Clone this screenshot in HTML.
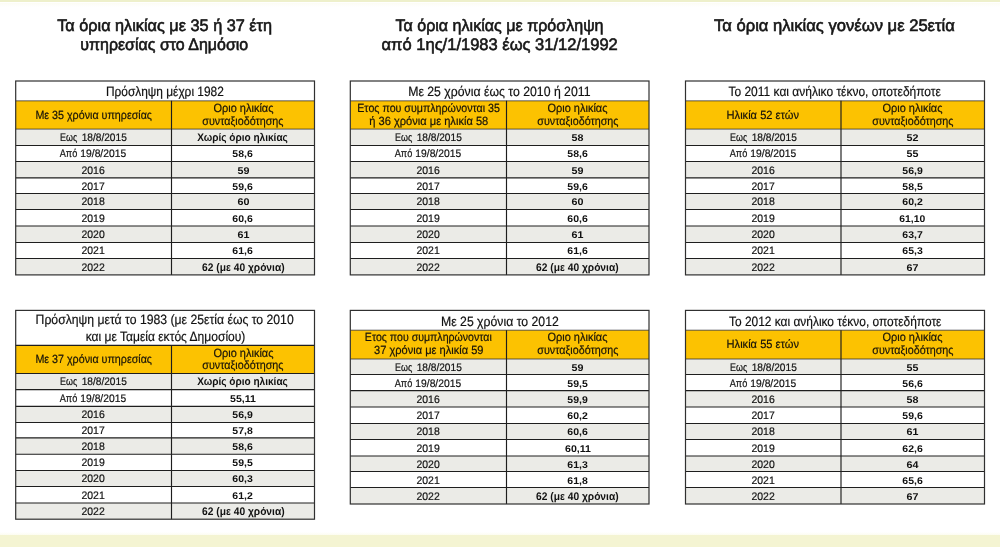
<!DOCTYPE html>
<html lang="el"><head><meta charset="utf-8"><title>Τα όρια ηλικίας</title>
<style>
html,body{margin:0;padding:0;}
body{width:1000px;height:547px;position:relative;overflow:hidden;background:#fff;font-family:"Liberation Sans",sans-serif;text-rendering:geometricPrecision;}
.band{position:absolute;left:0;width:1000px;}
svg{position:absolute;left:0;top:0;}
#txt{position:absolute;left:0;top:0;width:1000px;height:547px;will-change:transform;}
.x{position:absolute;white-space:nowrap;line-height:20px;height:20px;width:400px;margin-left:-200px;text-align:center;}
.x span{display:inline-block;transform-origin:50% 50%;}
.x{-webkit-text-stroke:0.2px currentColor;}
.b{font-weight:bold;-webkit-text-stroke:0;}
.sb{-webkit-text-stroke:0.6px #161616;}
</style></head><body>
<div class="band" style="top:0;height:2px;background:#eef0cb"></div>
<div class="band" style="top:3px;height:4px;background:linear-gradient(#fdfdf4,#ffffff)"></div>
<div class="band" style="top:532px;height:3px;background:linear-gradient(#ffffff,#fcfcf0)"></div>
<div class="band" style="top:535px;height:12px;background:#f4f4d2"></div>

<svg width="1000" height="547" viewBox="0 0 1000 547">
<rect x="15.7" y="81" width="298.8" height="193.9" fill="#fff"/>
<rect x="15.7" y="100.85" width="298.8" height="28.25" fill="#fcc201"/>
<rect x="15.7" y="129.1" width="298.8" height="16.4" fill="#ebebe7"/>
<rect x="15.7" y="161.5" width="298.8" height="16.4" fill="#ebebe7"/>
<rect x="15.7" y="193.5" width="298.8" height="16" fill="#ebebe7"/>
<rect x="15.7" y="226" width="298.8" height="16.5" fill="#ebebe7"/>
<rect x="15.7" y="258.5" width="298.8" height="16.4" fill="#ebebe7"/>
<path d="M15.7 100.85H314.5M15.7 129.1H314.5" stroke="#2a2a30" stroke-width="0.75" fill="none"/>
<path d="M15.7 145.5H314.5M15.7 161.5H314.5M15.7 177.9H314.5M15.7 193.5H314.5M15.7 209.5H314.5M15.7 226H314.5M15.7 242.5H314.5M15.7 258.5H314.5M171.5 100.85V274.9" stroke="#1e1e1e" stroke-width="1.15" fill="none"/>
<rect x="15.7" y="81" width="298.8" height="193.9" fill="none" stroke="#303030" stroke-width="1.2"/>
<rect x="350.3" y="81" width="298.7" height="193.9" fill="#fff"/>
<rect x="350.3" y="100.85" width="298.7" height="28.25" fill="#fcc201"/>
<rect x="350.3" y="129.1" width="298.7" height="16.4" fill="#ebebe7"/>
<rect x="350.3" y="161.5" width="298.7" height="16.4" fill="#ebebe7"/>
<rect x="350.3" y="193.5" width="298.7" height="16" fill="#ebebe7"/>
<rect x="350.3" y="226" width="298.7" height="16.5" fill="#ebebe7"/>
<rect x="350.3" y="258.5" width="298.7" height="16.4" fill="#ebebe7"/>
<path d="M350.3 100.85H649M350.3 129.1H649" stroke="#2a2a30" stroke-width="0.75" fill="none"/>
<path d="M350.3 145.5H649M350.3 161.5H649M350.3 177.9H649M350.3 193.5H649M350.3 209.5H649M350.3 226H649M350.3 242.5H649M350.3 258.5H649M506.5 100.85V274.9" stroke="#1e1e1e" stroke-width="1.15" fill="none"/>
<rect x="350.3" y="81" width="298.7" height="193.9" fill="none" stroke="#303030" stroke-width="1.2"/>
<rect x="685.5" y="81" width="299" height="193.9" fill="#fff"/>
<rect x="685.5" y="100.85" width="299" height="28.25" fill="#fcc201"/>
<rect x="685.5" y="129.1" width="299" height="16.4" fill="#ebebe7"/>
<rect x="685.5" y="161.5" width="299" height="16.4" fill="#ebebe7"/>
<rect x="685.5" y="193.5" width="299" height="16" fill="#ebebe7"/>
<rect x="685.5" y="226" width="299" height="16.5" fill="#ebebe7"/>
<rect x="685.5" y="258.5" width="299" height="16.4" fill="#ebebe7"/>
<path d="M685.5 100.85H984.5M685.5 129.1H984.5" stroke="#2a2a30" stroke-width="0.75" fill="none"/>
<path d="M685.5 145.5H984.5M685.5 161.5H984.5M685.5 177.9H984.5M685.5 193.5H984.5M685.5 209.5H984.5M685.5 226H984.5M685.5 242.5H984.5M685.5 258.5H984.5M841 100.85V274.9" stroke="#1e1e1e" stroke-width="1.15" fill="none"/>
<rect x="685.5" y="81" width="299" height="193.9" fill="none" stroke="#303030" stroke-width="1.2"/>
<rect x="15.7" y="310.4" width="298.8" height="208.8" fill="#fff"/>
<rect x="15.7" y="345.4" width="298.8" height="28.1" fill="#fcc201"/>
<rect x="15.7" y="373.5" width="298.8" height="16.05" fill="#ebebe7"/>
<rect x="15.7" y="406.3" width="298.8" height="16.2" fill="#ebebe7"/>
<rect x="15.7" y="437.9" width="298.8" height="16.3" fill="#ebebe7"/>
<rect x="15.7" y="470.5" width="298.8" height="16" fill="#ebebe7"/>
<rect x="15.7" y="503" width="298.8" height="16.2" fill="#ebebe7"/>
<path d="M15.7 345.4H314.5M15.7 373.5H314.5M15.7 389.55H314.5M15.7 406.3H314.5M15.7 422.5H314.5M15.7 437.9H314.5M15.7 454.2H314.5M15.7 470.5H314.5M15.7 486.5H314.5M15.7 503H314.5M171.5 345.4V519.2" stroke="#1e1e1e" stroke-width="1.15" fill="none"/>
<rect x="15.7" y="310.4" width="298.8" height="208.8" fill="none" stroke="#303030" stroke-width="1.2"/>
<rect x="350.3" y="310.4" width="298.7" height="193.6" fill="#fff"/>
<rect x="350.3" y="330.2" width="298.7" height="28.8" fill="#fcc201"/>
<rect x="350.3" y="359" width="298.7" height="15.5" fill="#ebebe7"/>
<rect x="350.3" y="390.6" width="298.7" height="16.4" fill="#ebebe7"/>
<rect x="350.3" y="423.5" width="298.7" height="16" fill="#ebebe7"/>
<rect x="350.3" y="456" width="298.7" height="15.5" fill="#ebebe7"/>
<rect x="350.3" y="487.5" width="298.7" height="16.5" fill="#ebebe7"/>
<path d="M350.3 330.2H649M350.3 359H649" stroke="#2a2a30" stroke-width="0.75" fill="none"/>
<path d="M350.3 374.5H649M350.3 390.6H649M350.3 407H649M350.3 423.5H649M350.3 439.5H649M350.3 456H649M350.3 471.5H649M350.3 487.5H649M506.5 330.2V504" stroke="#1e1e1e" stroke-width="1.15" fill="none"/>
<rect x="350.3" y="310.4" width="298.7" height="193.6" fill="none" stroke="#303030" stroke-width="1.2"/>
<rect x="685.5" y="310.4" width="299" height="193.6" fill="#fff"/>
<rect x="685.5" y="330.2" width="299" height="28.8" fill="#fcc201"/>
<rect x="685.5" y="359" width="299" height="15.5" fill="#ebebe7"/>
<rect x="685.5" y="390.6" width="299" height="16.4" fill="#ebebe7"/>
<rect x="685.5" y="423.5" width="299" height="16" fill="#ebebe7"/>
<rect x="685.5" y="456" width="299" height="15.5" fill="#ebebe7"/>
<rect x="685.5" y="487.5" width="299" height="16.5" fill="#ebebe7"/>
<path d="M685.5 330.2H984.5M685.5 359H984.5" stroke="#2a2a30" stroke-width="0.75" fill="none"/>
<path d="M685.5 374.5H984.5M685.5 390.6H984.5M685.5 407H984.5M685.5 423.5H984.5M685.5 439.5H984.5M685.5 456H984.5M685.5 471.5H984.5M685.5 487.5H984.5M841 330.2V504" stroke="#1e1e1e" stroke-width="1.15" fill="none"/>
<rect x="685.5" y="310.4" width="299" height="193.6" fill="none" stroke="#303030" stroke-width="1.2"/>
</svg>
<div id="txt">
<div class="x sb" style="left:164.70px;top:16.20px;font-size:16.6px;color:#161616"><span id="t0" style="transform:scaleX(0.9804)">Τα όρια ηλικίας με 35 ή 37 έτη</span></div>
<div class="x sb" style="left:164.70px;top:35.20px;font-size:16.6px;color:#161616"><span id="t1" style="transform:scaleX(0.9624)">υπηρεσίας στο Δημόσιο</span></div>
<div class="x sb" style="left:499.50px;top:16.20px;font-size:16.6px;color:#161616"><span id="t2" style="transform:scaleX(0.9680)">Τα όρια ηλικίας με πρόσληψη</span></div>
<div class="x sb" style="left:499.50px;top:35.20px;font-size:16.6px;color:#161616"><span id="t3" style="transform:scaleX(0.9953)">από 1ης/1/1983 έως 31/12/1992</span></div>
<div class="x sb" style="left:834.30px;top:16.20px;font-size:16.6px;color:#161616"><span id="t4" style="transform:scaleX(1.0004)">Τα όρια ηλικίας γονέων με 25ετία</span></div>
<div class="x" style="left:165.10px;top:82.20px;font-size:13.5px;color:#111111"><span id="t5" style="transform:scaleX(0.8809)">Πρόσληψη μέχρι 1982</span></div>
<div class="x" style="left:93.60px;top:105.20px;font-size:11.9px;color:#17130a"><span id="t6" style="transform:scaleX(0.9014)">Με 35 χρόνια υπηρεσίας</span></div>
<div class="x" style="left:243.00px;top:98.20px;font-size:11.9px;color:#17130a"><span id="t7" style="transform:scaleX(0.9227)">Οριο ηλικίας</span></div>
<div class="x" style="left:243.00px;top:111.20px;font-size:11.9px;color:#17130a"><span id="t8" style="transform:scaleX(0.9034)">συνταξιοδότησης</span></div>
<div class="x" style="left:68.90px;top:128.20px;font-size:11.0px;color:#111111"><span id="t9" style="transform:scaleX(0.8100)">Εως</span></div>
<div class="x" style="left:104.60px;top:128.20px;font-size:10.9px;color:#111111"><span id="t10" style="transform:scaleX(0.9327)">18/8/2015</span></div>
<div class="x b" style="left:243.00px;top:128.20px;font-size:11.0px;color:#111111"><span id="t11" style="transform:scaleX(0.9147)">Χωρίς όριο ηλικίας</span></div>
<div class="x" style="left:68.40px;top:144.20px;font-size:11.0px;color:#111111"><span id="t12" style="transform:scaleX(0.8362)">Από</span></div>
<div class="x" style="left:103.60px;top:144.20px;font-size:10.9px;color:#111111"><span id="t13" style="transform:scaleX(0.9451)">19/8/2015</span></div>
<div class="x b" style="left:243.00px;top:145.20px;font-size:9.8px;color:#111111"><span id="t14" style="transform:scaleX(1.0711)">58,6</span></div>
<div class="x" style="left:93.60px;top:161.20px;font-size:10.9px;color:#111111"><span id="t15" style="transform:scaleX(0.9612)">2016</span></div>
<div class="x b" style="left:243.00px;top:162.20px;font-size:9.8px;color:#111111"><span id="t16" style="transform:scaleX(1.0943)">59</span></div>
<div class="x" style="left:93.60px;top:177.20px;font-size:10.9px;color:#111111"><span id="t17" style="transform:scaleX(0.9612)">2017</span></div>
<div class="x b" style="left:243.00px;top:178.20px;font-size:9.8px;color:#111111"><span id="t18" style="transform:scaleX(1.0711)">59,6</span></div>
<div class="x" style="left:93.60px;top:192.20px;font-size:10.9px;color:#111111"><span id="t19" style="transform:scaleX(0.9612)">2018</span></div>
<div class="x b" style="left:243.00px;top:193.20px;font-size:9.8px;color:#111111"><span id="t20" style="transform:scaleX(1.0943)">60</span></div>
<div class="x" style="left:93.60px;top:209.20px;font-size:10.9px;color:#111111"><span id="t21" style="transform:scaleX(0.9612)">2019</span></div>
<div class="x b" style="left:243.00px;top:210.20px;font-size:9.8px;color:#111111"><span id="t22" style="transform:scaleX(1.0711)">60,6</span></div>
<div class="x" style="left:93.60px;top:225.20px;font-size:10.9px;color:#111111"><span id="t23" style="transform:scaleX(0.9612)">2020</span></div>
<div class="x b" style="left:243.00px;top:226.20px;font-size:9.8px;color:#111111"><span id="t24" style="transform:scaleX(1.0943)">61</span></div>
<div class="x" style="left:93.60px;top:241.20px;font-size:10.9px;color:#111111"><span id="t25" style="transform:scaleX(0.9612)">2021</span></div>
<div class="x b" style="left:243.00px;top:242.20px;font-size:9.8px;color:#111111"><span id="t26" style="transform:scaleX(1.0711)">61,6</span></div>
<div class="x" style="left:93.60px;top:258.20px;font-size:10.9px;color:#111111"><span id="t27" style="transform:scaleX(0.9612)">2022</span></div>
<div class="x b" style="left:243.00px;top:258.20px;font-size:11.0px;color:#111111"><span id="t28" style="transform:scaleX(0.9299)">62 (με 40 χρόνια)</span></div>
<div class="x" style="left:499.65px;top:82.20px;font-size:13.5px;color:#111111"><span id="t29" style="transform:scaleX(0.9087)">Με 25 χρόνια έως το 2010 ή 2011</span></div>
<div class="x" style="left:428.40px;top:98.20px;font-size:11.9px;color:#17130a"><span id="t30" style="transform:scaleX(0.8963)">Ετος που συμπληρώνονται 35</span></div>
<div class="x" style="left:428.40px;top:111.20px;font-size:11.9px;color:#17130a"><span id="t31" style="transform:scaleX(0.9338)">ή 36 χρόνια με ηλικία 58</span></div>
<div class="x" style="left:577.75px;top:98.20px;font-size:11.9px;color:#17130a"><span id="t32" style="transform:scaleX(0.9227)">Οριο ηλικίας</span></div>
<div class="x" style="left:577.75px;top:111.20px;font-size:11.9px;color:#17130a"><span id="t33" style="transform:scaleX(0.9034)">συνταξιοδότησης</span></div>
<div class="x" style="left:403.70px;top:128.20px;font-size:11.0px;color:#111111"><span id="t34" style="transform:scaleX(0.8100)">Εως</span></div>
<div class="x" style="left:439.40px;top:128.20px;font-size:10.9px;color:#111111"><span id="t35" style="transform:scaleX(0.9327)">18/8/2015</span></div>
<div class="x b" style="left:577.75px;top:129.20px;font-size:9.8px;color:#111111"><span id="t36" style="transform:scaleX(1.0943)">58</span></div>
<div class="x" style="left:403.20px;top:144.20px;font-size:11.0px;color:#111111"><span id="t37" style="transform:scaleX(0.8362)">Από</span></div>
<div class="x" style="left:438.40px;top:144.20px;font-size:10.9px;color:#111111"><span id="t38" style="transform:scaleX(0.9451)">19/8/2015</span></div>
<div class="x b" style="left:577.75px;top:145.20px;font-size:9.8px;color:#111111"><span id="t39" style="transform:scaleX(1.0711)">58,6</span></div>
<div class="x" style="left:428.40px;top:161.20px;font-size:10.9px;color:#111111"><span id="t40" style="transform:scaleX(0.9612)">2016</span></div>
<div class="x b" style="left:577.75px;top:162.20px;font-size:9.8px;color:#111111"><span id="t41" style="transform:scaleX(1.0943)">59</span></div>
<div class="x" style="left:428.40px;top:177.20px;font-size:10.9px;color:#111111"><span id="t42" style="transform:scaleX(0.9612)">2017</span></div>
<div class="x b" style="left:577.75px;top:178.20px;font-size:9.8px;color:#111111"><span id="t43" style="transform:scaleX(1.0711)">59,6</span></div>
<div class="x" style="left:428.40px;top:192.20px;font-size:10.9px;color:#111111"><span id="t44" style="transform:scaleX(0.9612)">2018</span></div>
<div class="x b" style="left:577.75px;top:193.20px;font-size:9.8px;color:#111111"><span id="t45" style="transform:scaleX(1.0943)">60</span></div>
<div class="x" style="left:428.40px;top:209.20px;font-size:10.9px;color:#111111"><span id="t46" style="transform:scaleX(0.9612)">2019</span></div>
<div class="x b" style="left:577.75px;top:210.20px;font-size:9.8px;color:#111111"><span id="t47" style="transform:scaleX(1.0711)">60,6</span></div>
<div class="x" style="left:428.40px;top:225.20px;font-size:10.9px;color:#111111"><span id="t48" style="transform:scaleX(0.9612)">2020</span></div>
<div class="x b" style="left:577.75px;top:226.20px;font-size:9.8px;color:#111111"><span id="t49" style="transform:scaleX(1.0943)">61</span></div>
<div class="x" style="left:428.40px;top:241.20px;font-size:10.9px;color:#111111"><span id="t50" style="transform:scaleX(0.9612)">2021</span></div>
<div class="x b" style="left:577.75px;top:242.20px;font-size:9.8px;color:#111111"><span id="t51" style="transform:scaleX(1.0711)">61,6</span></div>
<div class="x" style="left:428.40px;top:258.20px;font-size:10.9px;color:#111111"><span id="t52" style="transform:scaleX(0.9612)">2022</span></div>
<div class="x b" style="left:577.75px;top:258.20px;font-size:11.0px;color:#111111"><span id="t53" style="transform:scaleX(0.9299)">62 (με 40 χρόνια)</span></div>
<div class="x" style="left:835.00px;top:82.20px;font-size:13.5px;color:#111111"><span id="t54" style="transform:scaleX(0.8876)">Το 2011 και ανήλικο τέκνο, οποτεδήποτε</span></div>
<div class="x" style="left:763.25px;top:105.20px;font-size:11.9px;color:#17130a"><span id="t55" style="transform:scaleX(0.9338)">Ηλικία 52 ετών</span></div>
<div class="x" style="left:912.75px;top:98.20px;font-size:11.9px;color:#17130a"><span id="t56" style="transform:scaleX(0.9227)">Οριο ηλικίας</span></div>
<div class="x" style="left:912.75px;top:111.20px;font-size:11.9px;color:#17130a"><span id="t57" style="transform:scaleX(0.9034)">συνταξιοδότησης</span></div>
<div class="x" style="left:738.55px;top:128.20px;font-size:11.0px;color:#111111"><span id="t58" style="transform:scaleX(0.8100)">Εως</span></div>
<div class="x" style="left:774.25px;top:128.20px;font-size:10.9px;color:#111111"><span id="t59" style="transform:scaleX(0.9327)">18/8/2015</span></div>
<div class="x b" style="left:912.75px;top:129.20px;font-size:9.8px;color:#111111"><span id="t60" style="transform:scaleX(1.0943)">52</span></div>
<div class="x" style="left:738.05px;top:144.20px;font-size:11.0px;color:#111111"><span id="t61" style="transform:scaleX(0.8362)">Από</span></div>
<div class="x" style="left:773.25px;top:144.20px;font-size:10.9px;color:#111111"><span id="t62" style="transform:scaleX(0.9451)">19/8/2015</span></div>
<div class="x b" style="left:912.75px;top:145.20px;font-size:9.8px;color:#111111"><span id="t63" style="transform:scaleX(1.0943)">55</span></div>
<div class="x" style="left:763.25px;top:161.20px;font-size:10.9px;color:#111111"><span id="t64" style="transform:scaleX(0.9612)">2016</span></div>
<div class="x b" style="left:912.75px;top:162.20px;font-size:9.8px;color:#111111"><span id="t65" style="transform:scaleX(1.0711)">56,9</span></div>
<div class="x" style="left:763.25px;top:177.20px;font-size:10.9px;color:#111111"><span id="t66" style="transform:scaleX(0.9612)">2017</span></div>
<div class="x b" style="left:912.75px;top:178.20px;font-size:9.8px;color:#111111"><span id="t67" style="transform:scaleX(1.0711)">58,5</span></div>
<div class="x" style="left:763.25px;top:192.20px;font-size:10.9px;color:#111111"><span id="t68" style="transform:scaleX(0.9612)">2018</span></div>
<div class="x b" style="left:912.75px;top:193.20px;font-size:9.8px;color:#111111"><span id="t69" style="transform:scaleX(1.0711)">60,2</span></div>
<div class="x" style="left:763.25px;top:209.20px;font-size:10.9px;color:#111111"><span id="t70" style="transform:scaleX(0.9612)">2019</span></div>
<div class="x b" style="left:912.75px;top:210.20px;font-size:9.8px;color:#111111"><span id="t71" style="transform:scaleX(1.0572)">61,10</span></div>
<div class="x" style="left:763.25px;top:225.20px;font-size:10.9px;color:#111111"><span id="t72" style="transform:scaleX(0.9612)">2020</span></div>
<div class="x b" style="left:912.75px;top:226.20px;font-size:9.8px;color:#111111"><span id="t73" style="transform:scaleX(1.0711)">63,7</span></div>
<div class="x" style="left:763.25px;top:241.20px;font-size:10.9px;color:#111111"><span id="t74" style="transform:scaleX(0.9612)">2021</span></div>
<div class="x b" style="left:912.75px;top:242.20px;font-size:9.8px;color:#111111"><span id="t75" style="transform:scaleX(1.0711)">65,3</span></div>
<div class="x" style="left:763.25px;top:258.20px;font-size:10.9px;color:#111111"><span id="t76" style="transform:scaleX(0.9612)">2022</span></div>
<div class="x b" style="left:912.75px;top:259.20px;font-size:9.8px;color:#111111"><span id="t77" style="transform:scaleX(1.0943)">67</span></div>
<div class="x" style="left:165.10px;top:310.20px;font-size:13.5px;color:#111111"><span id="t78" style="transform:scaleX(0.9047)">Πρόσληψη μετά το 1983 (με 25ετία έως το 2010</span></div>
<div class="x" style="left:165.10px;top:327.20px;font-size:13.5px;color:#111111"><span id="t79" style="transform:scaleX(0.8923)">και με Ταμεία εκτός Δημοσίου)</span></div>
<div class="x" style="left:93.60px;top:349.20px;font-size:11.9px;color:#17130a"><span id="t80" style="transform:scaleX(0.9014)">Με 37 χρόνια υπηρεσίας</span></div>
<div class="x" style="left:243.00px;top:343.20px;font-size:11.9px;color:#17130a"><span id="t81" style="transform:scaleX(0.9227)">Οριο ηλικίας</span></div>
<div class="x" style="left:243.00px;top:355.20px;font-size:11.9px;color:#17130a"><span id="t82" style="transform:scaleX(0.9034)">συνταξιοδότησης</span></div>
<div class="x" style="left:68.90px;top:372.20px;font-size:11.0px;color:#111111"><span id="t83" style="transform:scaleX(0.8100)">Εως</span></div>
<div class="x" style="left:104.60px;top:372.20px;font-size:10.9px;color:#111111"><span id="t84" style="transform:scaleX(0.9327)">18/8/2015</span></div>
<div class="x b" style="left:243.00px;top:372.20px;font-size:11.0px;color:#111111"><span id="t85" style="transform:scaleX(0.9147)">Χωρίς όριο ηλικίας</span></div>
<div class="x" style="left:68.40px;top:389.20px;font-size:11.0px;color:#111111"><span id="t86" style="transform:scaleX(0.8362)">Από</span></div>
<div class="x" style="left:103.60px;top:389.20px;font-size:10.9px;color:#111111"><span id="t87" style="transform:scaleX(0.9451)">19/8/2015</span></div>
<div class="x b" style="left:243.00px;top:390.20px;font-size:9.8px;color:#111111"><span id="t88" style="transform:scaleX(1.0813)">55,11</span></div>
<div class="x" style="left:93.60px;top:405.20px;font-size:10.9px;color:#111111"><span id="t89" style="transform:scaleX(0.9612)">2016</span></div>
<div class="x b" style="left:243.00px;top:406.20px;font-size:9.8px;color:#111111"><span id="t90" style="transform:scaleX(1.0711)">56,9</span></div>
<div class="x" style="left:93.60px;top:421.20px;font-size:10.9px;color:#111111"><span id="t91" style="transform:scaleX(0.9612)">2017</span></div>
<div class="x b" style="left:243.00px;top:422.20px;font-size:9.8px;color:#111111"><span id="t92" style="transform:scaleX(1.0711)">57,8</span></div>
<div class="x" style="left:93.60px;top:437.20px;font-size:10.9px;color:#111111"><span id="t93" style="transform:scaleX(0.9612)">2018</span></div>
<div class="x b" style="left:243.00px;top:438.20px;font-size:9.8px;color:#111111"><span id="t94" style="transform:scaleX(1.0711)">58,6</span></div>
<div class="x" style="left:93.60px;top:453.20px;font-size:10.9px;color:#111111"><span id="t95" style="transform:scaleX(0.9612)">2019</span></div>
<div class="x b" style="left:243.00px;top:454.20px;font-size:9.8px;color:#111111"><span id="t96" style="transform:scaleX(1.0711)">59,5</span></div>
<div class="x" style="left:93.60px;top:469.20px;font-size:10.9px;color:#111111"><span id="t97" style="transform:scaleX(0.9612)">2020</span></div>
<div class="x b" style="left:243.00px;top:470.20px;font-size:9.8px;color:#111111"><span id="t98" style="transform:scaleX(1.0711)">60,3</span></div>
<div class="x" style="left:93.60px;top:486.20px;font-size:10.9px;color:#111111"><span id="t99" style="transform:scaleX(0.9612)">2021</span></div>
<div class="x b" style="left:243.00px;top:487.20px;font-size:9.8px;color:#111111"><span id="t100" style="transform:scaleX(1.0711)">61,2</span></div>
<div class="x" style="left:93.60px;top:502.20px;font-size:10.9px;color:#111111"><span id="t101" style="transform:scaleX(0.9612)">2022</span></div>
<div class="x b" style="left:243.00px;top:502.20px;font-size:11.0px;color:#111111"><span id="t102" style="transform:scaleX(0.9299)">62 (με 40 χρόνια)</span></div>
<div class="x" style="left:499.65px;top:312.20px;font-size:13.5px;color:#111111"><span id="t103" style="transform:scaleX(0.9071)">Με 25 χρόνια το 2012</span></div>
<div class="x" style="left:428.40px;top:327.20px;font-size:11.9px;color:#17130a"><span id="t104" style="transform:scaleX(0.8897)">Ετος που συμπληρώνονται</span></div>
<div class="x" style="left:428.40px;top:340.20px;font-size:11.9px;color:#17130a"><span id="t105" style="transform:scaleX(0.9306)">37 χρόνια με ηλικία 59</span></div>
<div class="x" style="left:577.75px;top:327.20px;font-size:11.9px;color:#17130a"><span id="t106" style="transform:scaleX(0.9227)">Οριο ηλικίας</span></div>
<div class="x" style="left:577.75px;top:340.20px;font-size:11.9px;color:#17130a"><span id="t107" style="transform:scaleX(0.9034)">συνταξιοδότησης</span></div>
<div class="x" style="left:403.70px;top:358.20px;font-size:11.0px;color:#111111"><span id="t108" style="transform:scaleX(0.8100)">Εως</span></div>
<div class="x" style="left:439.40px;top:358.20px;font-size:10.9px;color:#111111"><span id="t109" style="transform:scaleX(0.9327)">18/8/2015</span></div>
<div class="x b" style="left:577.75px;top:359.20px;font-size:9.8px;color:#111111"><span id="t110" style="transform:scaleX(1.0943)">59</span></div>
<div class="x" style="left:403.20px;top:374.20px;font-size:11.0px;color:#111111"><span id="t111" style="transform:scaleX(0.8362)">Από</span></div>
<div class="x" style="left:438.40px;top:374.20px;font-size:10.9px;color:#111111"><span id="t112" style="transform:scaleX(0.9451)">19/8/2015</span></div>
<div class="x b" style="left:577.75px;top:375.20px;font-size:9.8px;color:#111111"><span id="t113" style="transform:scaleX(1.0711)">59,5</span></div>
<div class="x" style="left:428.40px;top:390.20px;font-size:10.9px;color:#111111"><span id="t114" style="transform:scaleX(0.9612)">2016</span></div>
<div class="x b" style="left:577.75px;top:391.20px;font-size:9.8px;color:#111111"><span id="t115" style="transform:scaleX(1.0711)">59,9</span></div>
<div class="x" style="left:428.40px;top:406.20px;font-size:10.9px;color:#111111"><span id="t116" style="transform:scaleX(0.9612)">2017</span></div>
<div class="x b" style="left:577.75px;top:407.20px;font-size:9.8px;color:#111111"><span id="t117" style="transform:scaleX(1.0711)">60,2</span></div>
<div class="x" style="left:428.40px;top:422.20px;font-size:10.9px;color:#111111"><span id="t118" style="transform:scaleX(0.9612)">2018</span></div>
<div class="x b" style="left:577.75px;top:423.20px;font-size:9.8px;color:#111111"><span id="t119" style="transform:scaleX(1.0711)">60,6</span></div>
<div class="x" style="left:428.40px;top:439.20px;font-size:10.9px;color:#111111"><span id="t120" style="transform:scaleX(0.9612)">2019</span></div>
<div class="x b" style="left:577.75px;top:440.20px;font-size:9.8px;color:#111111"><span id="t121" style="transform:scaleX(1.0813)">60,11</span></div>
<div class="x" style="left:428.40px;top:455.20px;font-size:10.9px;color:#111111"><span id="t122" style="transform:scaleX(0.9612)">2020</span></div>
<div class="x b" style="left:577.75px;top:456.20px;font-size:9.8px;color:#111111"><span id="t123" style="transform:scaleX(1.0711)">61,3</span></div>
<div class="x" style="left:428.40px;top:471.20px;font-size:10.9px;color:#111111"><span id="t124" style="transform:scaleX(0.9612)">2021</span></div>
<div class="x b" style="left:577.75px;top:472.20px;font-size:9.8px;color:#111111"><span id="t125" style="transform:scaleX(1.0711)">61,8</span></div>
<div class="x" style="left:428.40px;top:487.20px;font-size:10.9px;color:#111111"><span id="t126" style="transform:scaleX(0.9612)">2022</span></div>
<div class="x b" style="left:577.75px;top:487.20px;font-size:11.0px;color:#111111"><span id="t127" style="transform:scaleX(0.9299)">62 (με 40 χρόνια)</span></div>
<div class="x" style="left:835.00px;top:312.20px;font-size:13.5px;color:#111111"><span id="t128" style="transform:scaleX(0.8839)">Το 2012 και ανήλικο τέκνο, οποτεδήποτε</span></div>
<div class="x" style="left:763.25px;top:334.20px;font-size:11.9px;color:#17130a"><span id="t129" style="transform:scaleX(0.9338)">Ηλικία 55 ετών</span></div>
<div class="x" style="left:912.75px;top:327.20px;font-size:11.9px;color:#17130a"><span id="t130" style="transform:scaleX(0.9227)">Οριο ηλικίας</span></div>
<div class="x" style="left:912.75px;top:340.20px;font-size:11.9px;color:#17130a"><span id="t131" style="transform:scaleX(0.9034)">συνταξιοδότησης</span></div>
<div class="x" style="left:738.55px;top:358.20px;font-size:11.0px;color:#111111"><span id="t132" style="transform:scaleX(0.8100)">Εως</span></div>
<div class="x" style="left:774.25px;top:358.20px;font-size:10.9px;color:#111111"><span id="t133" style="transform:scaleX(0.9327)">18/8/2015</span></div>
<div class="x b" style="left:912.75px;top:359.20px;font-size:9.8px;color:#111111"><span id="t134" style="transform:scaleX(1.0943)">55</span></div>
<div class="x" style="left:738.05px;top:374.20px;font-size:11.0px;color:#111111"><span id="t135" style="transform:scaleX(0.8362)">Από</span></div>
<div class="x" style="left:773.25px;top:374.20px;font-size:10.9px;color:#111111"><span id="t136" style="transform:scaleX(0.9451)">19/8/2015</span></div>
<div class="x b" style="left:912.75px;top:375.20px;font-size:9.8px;color:#111111"><span id="t137" style="transform:scaleX(1.0711)">56,6</span></div>
<div class="x" style="left:763.25px;top:390.20px;font-size:10.9px;color:#111111"><span id="t138" style="transform:scaleX(0.9612)">2016</span></div>
<div class="x b" style="left:912.75px;top:391.20px;font-size:9.8px;color:#111111"><span id="t139" style="transform:scaleX(1.0943)">58</span></div>
<div class="x" style="left:763.25px;top:406.20px;font-size:10.9px;color:#111111"><span id="t140" style="transform:scaleX(0.9612)">2017</span></div>
<div class="x b" style="left:912.75px;top:407.20px;font-size:9.8px;color:#111111"><span id="t141" style="transform:scaleX(1.0711)">59,6</span></div>
<div class="x" style="left:763.25px;top:422.20px;font-size:10.9px;color:#111111"><span id="t142" style="transform:scaleX(0.9612)">2018</span></div>
<div class="x b" style="left:912.75px;top:423.20px;font-size:9.8px;color:#111111"><span id="t143" style="transform:scaleX(1.0943)">61</span></div>
<div class="x" style="left:763.25px;top:439.20px;font-size:10.9px;color:#111111"><span id="t144" style="transform:scaleX(0.9612)">2019</span></div>
<div class="x b" style="left:912.75px;top:440.20px;font-size:9.8px;color:#111111"><span id="t145" style="transform:scaleX(1.0711)">62,6</span></div>
<div class="x" style="left:763.25px;top:455.20px;font-size:10.9px;color:#111111"><span id="t146" style="transform:scaleX(0.9612)">2020</span></div>
<div class="x b" style="left:912.75px;top:456.20px;font-size:9.8px;color:#111111"><span id="t147" style="transform:scaleX(1.0943)">64</span></div>
<div class="x" style="left:763.25px;top:471.20px;font-size:10.9px;color:#111111"><span id="t148" style="transform:scaleX(0.9612)">2021</span></div>
<div class="x b" style="left:912.75px;top:472.20px;font-size:9.8px;color:#111111"><span id="t149" style="transform:scaleX(1.0711)">65,6</span></div>
<div class="x" style="left:763.25px;top:487.20px;font-size:10.9px;color:#111111"><span id="t150" style="transform:scaleX(0.9612)">2022</span></div>
<div class="x b" style="left:912.75px;top:488.20px;font-size:9.8px;color:#111111"><span id="t151" style="transform:scaleX(1.0943)">67</span></div>
</div>
</body></html>
